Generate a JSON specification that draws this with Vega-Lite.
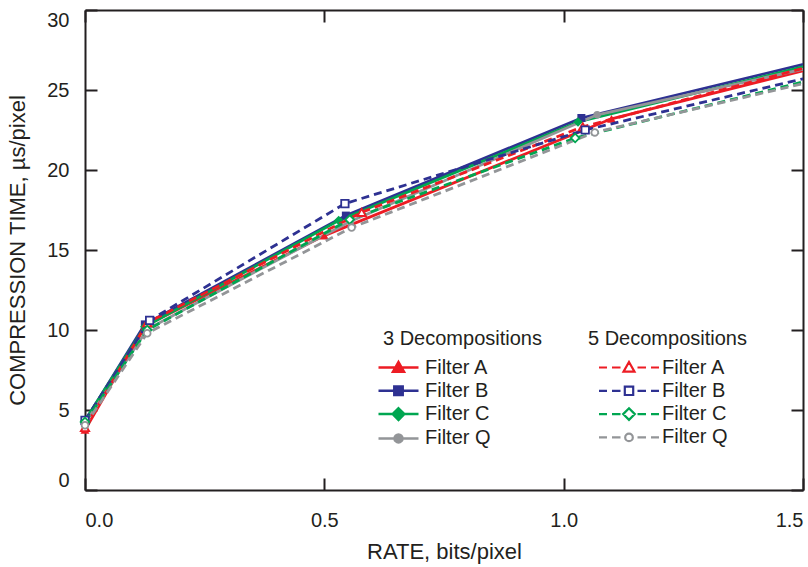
{
  "$schema": "https://vega.github.io/schema/vega-lite/v6.json",
  "width": 718,
  "height": 480,
  "autosize": {"type": "none"},
  "padding": {"left": 85, "top": 10, "right": 5, "bottom": 77},
  "background": "white",
  "config": {
    "font": "Liberation Sans",
    "view": {"stroke": null},
    "axis": {
      "labelFont": "Liberation Sans", "labelFontSize": 20, "labelColor": "#231f20",
      "titleFont": "Liberation Sans", "titleFontSize": 22, "titleFontWeight": "normal", "titleColor": "#231f20",
      "domainColor": "#231f20", "domainWidth": 2, "tickColor": "#231f20", "tickWidth": 2, "grid": false
    },
    "legend": {
      "labelFont": "Liberation Sans", "labelFontSize": 20, "labelColor": "#231f20",
      "titleFont": "Liberation Sans", "titleFontSize": 20, "titleFontWeight": "normal", "titleColor": "#231f20"
    }
  },
  "datasets": {
    "d": [
      {"decomp": 3, "filter": "Filter A", "rate": 0, "time": 3.75},
      {"decomp": 3, "filter": "Filter A", "rate": 0.125, "time": 10.25},
      {"decomp": 3, "filter": "Filter A", "rate": 0.5, "time": 15.9},
      {"decomp": 3, "filter": "Filter A", "rate": 1.1, "time": 23.2},
      {"decomp": 3, "filter": "Filter A", "rate": 1.55, "time": 26.58},
      {"decomp": 3, "filter": "Filter B", "rate": 0, "time": 4.3},
      {"decomp": 3, "filter": "Filter B", "rate": 0.125, "time": 10.35},
      {"decomp": 3, "filter": "Filter B", "rate": 0.545, "time": 17.15},
      {"decomp": 3, "filter": "Filter B", "rate": 1.037, "time": 23.25},
      {"decomp": 3, "filter": "Filter B", "rate": 1.55, "time": 26.96},
      {"decomp": 3, "filter": "Filter C", "rate": 0, "time": 4.35},
      {"decomp": 3, "filter": "Filter C", "rate": 0.125, "time": 10.2},
      {"decomp": 3, "filter": "Filter C", "rate": 0.53, "time": 16.85},
      {"decomp": 3, "filter": "Filter C", "rate": 1.03, "time": 23.0},
      {"decomp": 3, "filter": "Filter C", "rate": 1.55, "time": 26.82},
      {"decomp": 3, "filter": "Filter Q", "rate": 0, "time": 4.15},
      {"decomp": 3, "filter": "Filter Q", "rate": 0.13, "time": 10.05},
      {"decomp": 3, "filter": "Filter Q", "rate": 0.555, "time": 16.8},
      {"decomp": 3, "filter": "Filter Q", "rate": 1.07, "time": 23.45},
      {"decomp": 3, "filter": "Filter Q", "rate": 1.55, "time": 26.63},
      {"decomp": 5, "filter": "Filter A", "rate": 0, "time": 3.9},
      {"decomp": 5, "filter": "Filter A", "rate": 0.13, "time": 10.45},
      {"decomp": 5, "filter": "Filter A", "rate": 0.578, "time": 17.35},
      {"decomp": 5, "filter": "Filter A", "rate": 1.04, "time": 22.7},
      {"decomp": 5, "filter": "Filter A", "rate": 1.55, "time": 26.75},
      {"decomp": 5, "filter": "Filter B", "rate": 0, "time": 4.35},
      {"decomp": 5, "filter": "Filter B", "rate": 0.135, "time": 10.6},
      {"decomp": 5, "filter": "Filter B", "rate": 0.543, "time": 17.9},
      {"decomp": 5, "filter": "Filter B", "rate": 1.045, "time": 22.5},
      {"decomp": 5, "filter": "Filter B", "rate": 1.55, "time": 26.05},
      {"decomp": 5, "filter": "Filter C", "rate": 0, "time": 4.25},
      {"decomp": 5, "filter": "Filter C", "rate": 0.13, "time": 10.0},
      {"decomp": 5, "filter": "Filter C", "rate": 0.553, "time": 16.9},
      {"decomp": 5, "filter": "Filter C", "rate": 1.024, "time": 22.0},
      {"decomp": 5, "filter": "Filter C", "rate": 1.55, "time": 25.87},
      {"decomp": 5, "filter": "Filter Q", "rate": 0, "time": 4.05},
      {"decomp": 5, "filter": "Filter Q", "rate": 0.13, "time": 9.8},
      {"decomp": 5, "filter": "Filter Q", "rate": 0.557, "time": 16.4},
      {"decomp": 5, "filter": "Filter Q", "rate": 1.065, "time": 22.35},
      {"decomp": 5, "filter": "Filter Q", "rate": 1.55, "time": 25.75}
    ]
  },
  "data": {"name": "d"},
  "layer": [
    {
      "transform": [{"filter": "datum.decomp === 3"}],
      "encoding": {
        "x": {"field": "rate", "type": "quantitative", "scale": {"domain": [0, 1.5], "nice": false},
              "axis": {"orient": "bottom", "title": "RATE, bits/pixel", "values": [0, 0.5, 1, 1.5], "format": ".1f", "tickSize": -12, "labelPadding": 32, "labelFlush": true, "titlePadding": 11}},
        "y": {"field": "time", "type": "quantitative", "scale": {"domain": [0, 30], "nice": false},
              "axis": {"orient": "left", "title": "COMPRESSION TIME, µs/pixel", "values": [0, 5, 10, 15, 20, 25, 30], "tickSize": -12, "labelPadding": 28, "labelFlush": true, "titlePadding": 17}},
        "color": {"field": "filter", "type": "nominal",
                  "scale": {"domain": ["Filter A", "Filter B", "Filter C", "Filter Q"], "range": ["#ed1c24", "#2e3192", "#00a651", "#939598"]},
                  "legend": {
                    "title": "3 Decompositions", "orient": "none", "legendX": 298, "legendY": 319,
                    "symbolSize": 400, "symbolOffset": 4, "labelOffset": 15, "rowPadding": 1.3, "titlePadding": 7, "padding": 0,
                    "symbolStrokeWidth": 2.5,
                    "encode": {"symbols": {"update": {
                      "shape": {"signal": "datum.value === 'Filter A' ? 'M-2,0H2M0,-0.55L0.55,0.42L-0.55,0.42Z' : datum.value === 'Filter B' ? 'M-2,0H2M-0.42,-0.42H0.42V0.42H-0.42Z' : datum.value === 'Filter C' ? 'M-2,0H2M0,-0.58L0.58,0L0,0.58L-0.58,0Z' : 'M-2,0H2M0.4,0A0.4,0.4,0,1,1,-0.4,0A0.4,0.4,0,1,1,0.4,0Z'"},
                      "fill": {"signal": "datum.value === 'Filter A' ? '#ed1c24' : datum.value === 'Filter B' ? '#2e3192' : datum.value === 'Filter C' ? '#00a651' : '#939598'"},
                      "stroke": {"signal": "datum.value === 'Filter A' ? '#ed1c24' : datum.value === 'Filter B' ? '#2e3192' : datum.value === 'Filter C' ? '#00a651' : '#939598'"},
                      "strokeDash": {"value": []},
                      "strokeWidth": {"value": 2.5},
                      "opacity": {"value": 1}
                    }}}
                  }}
      },
      "layer": [
        {"mark": {"type": "line", "strokeWidth": 2.8, "clip": true}},
        {"transform": [{"filter": "datum.rate <= 1.5 && datum.filter === 'Filter A'"}],
         "mark": {"type": "point", "shape": "triangle-up", "filled": true, "size": 80, "opacity": 1}},
        {"transform": [{"filter": "datum.rate <= 1.5 && datum.filter === 'Filter B'"}],
         "mark": {"type": "point", "shape": "square", "filled": true, "size": 64, "opacity": 1}},
        {"transform": [{"filter": "datum.rate <= 1.5 && datum.filter === 'Filter C'"}],
         "mark": {"type": "point", "shape": "diamond", "filled": true, "size": 90, "opacity": 1}},
        {"transform": [{"filter": "datum.rate <= 1.5 && datum.filter === 'Filter Q'"}],
         "mark": {"type": "point", "shape": "circle", "filled": true, "size": 55, "opacity": 1}}
      ]
    },
    {
      "transform": [{"filter": "datum.decomp === 5"}],
      "encoding": {
        "x": {"field": "rate", "type": "quantitative", "scale": {"domain": [0, 1.5], "nice": false},
              "axis": {"orient": "top", "title": null, "labels": false, "values": [0, 0.5, 1, 1.5], "tickSize": -12}},
        "y": {"field": "time", "type": "quantitative", "scale": {"domain": [0, 30], "nice": false},
              "axis": {"orient": "right", "title": null, "labels": false, "values": [0, 5, 10, 15, 20, 25, 30], "tickSize": -12}},
        "color": {"field": "filter", "type": "nominal",
                  "scale": {"domain": ["Filter A", "Filter B", "Filter C", "Filter Q"], "range": ["#ed1c24", "#2e3192", "#00a651", "#939598"]},
                  "legend": {
                    "title": "5 Decompositions", "orient": "none", "legendX": 503, "legendY": 319,
                    "symbolSize": 400, "symbolOffset": 29.5, "labelOffset": 21.5, "rowPadding": 1.3, "titlePadding": 7, "padding": 0,
                    "symbolStrokeWidth": 2,
                    "encode": {"symbols": {"update": {
                      "shape": {"signal": "(datum.value === 'Filter A' ? 'M0,-0.55L0.55,0.42L-0.55,0.42Z' : datum.value === 'Filter B' ? 'M-0.42,-0.42H0.42V0.42H-0.42Z' : datum.value === 'Filter C' ? 'M0,-0.58L0.58,0L0,0.58L-0.58,0Z' : 'M0.38,0A0.38,0.38,0,1,1,-0.38,0A0.38,0.38,0,1,1,0.38,0Z') + 'M-3,0H-2.2M-1.7,0H-0.85M0.85,0H1.7M2.2,0H3'"},
                      "fill": {"value": "white"},
                      "stroke": {"signal": "datum.value === 'Filter A' ? '#ed1c24' : datum.value === 'Filter B' ? '#2e3192' : datum.value === 'Filter C' ? '#00a651' : '#939598'"},
                      "strokeDash": {"value": []},
                      "strokeWidth": {"value": 2.2},
                      "opacity": {"value": 1}
                    }}}
                  }}
      },
      "layer": [
        {"mark": {"type": "line", "strokeWidth": 2.8, "strokeDash": [8, 5], "clip": true}},
        {"transform": [{"filter": "datum.rate <= 1.5 && datum.filter === 'Filter A'"}],
         "mark": {"type": "point", "shape": "triangle-up", "filled": false, "fill": "white", "size": 70, "strokeWidth": 1.8, "opacity": 1}},
        {"transform": [{"filter": "datum.rate <= 1.5 && datum.filter === 'Filter B'"}],
         "mark": {"type": "point", "shape": "square", "filled": false, "fill": "white", "size": 55, "strokeWidth": 1.8, "opacity": 1}},
        {"transform": [{"filter": "datum.rate <= 1.5 && datum.filter === 'Filter C'"}],
         "mark": {"type": "point", "shape": "diamond", "filled": false, "fill": "white", "size": 75, "strokeWidth": 1.8, "opacity": 1}},
        {"transform": [{"filter": "datum.rate <= 1.5 && datum.filter === 'Filter Q'"}],
         "mark": {"type": "point", "shape": "circle", "filled": false, "fill": "white", "size": 45, "strokeWidth": 1.8, "opacity": 1}}
      ]
    }
  ],
  "resolve": {
    "scale": {"color": "independent"},
    "legend": {"color": "independent"},
    "axis": {"x": "independent", "y": "independent"}
  }
}
